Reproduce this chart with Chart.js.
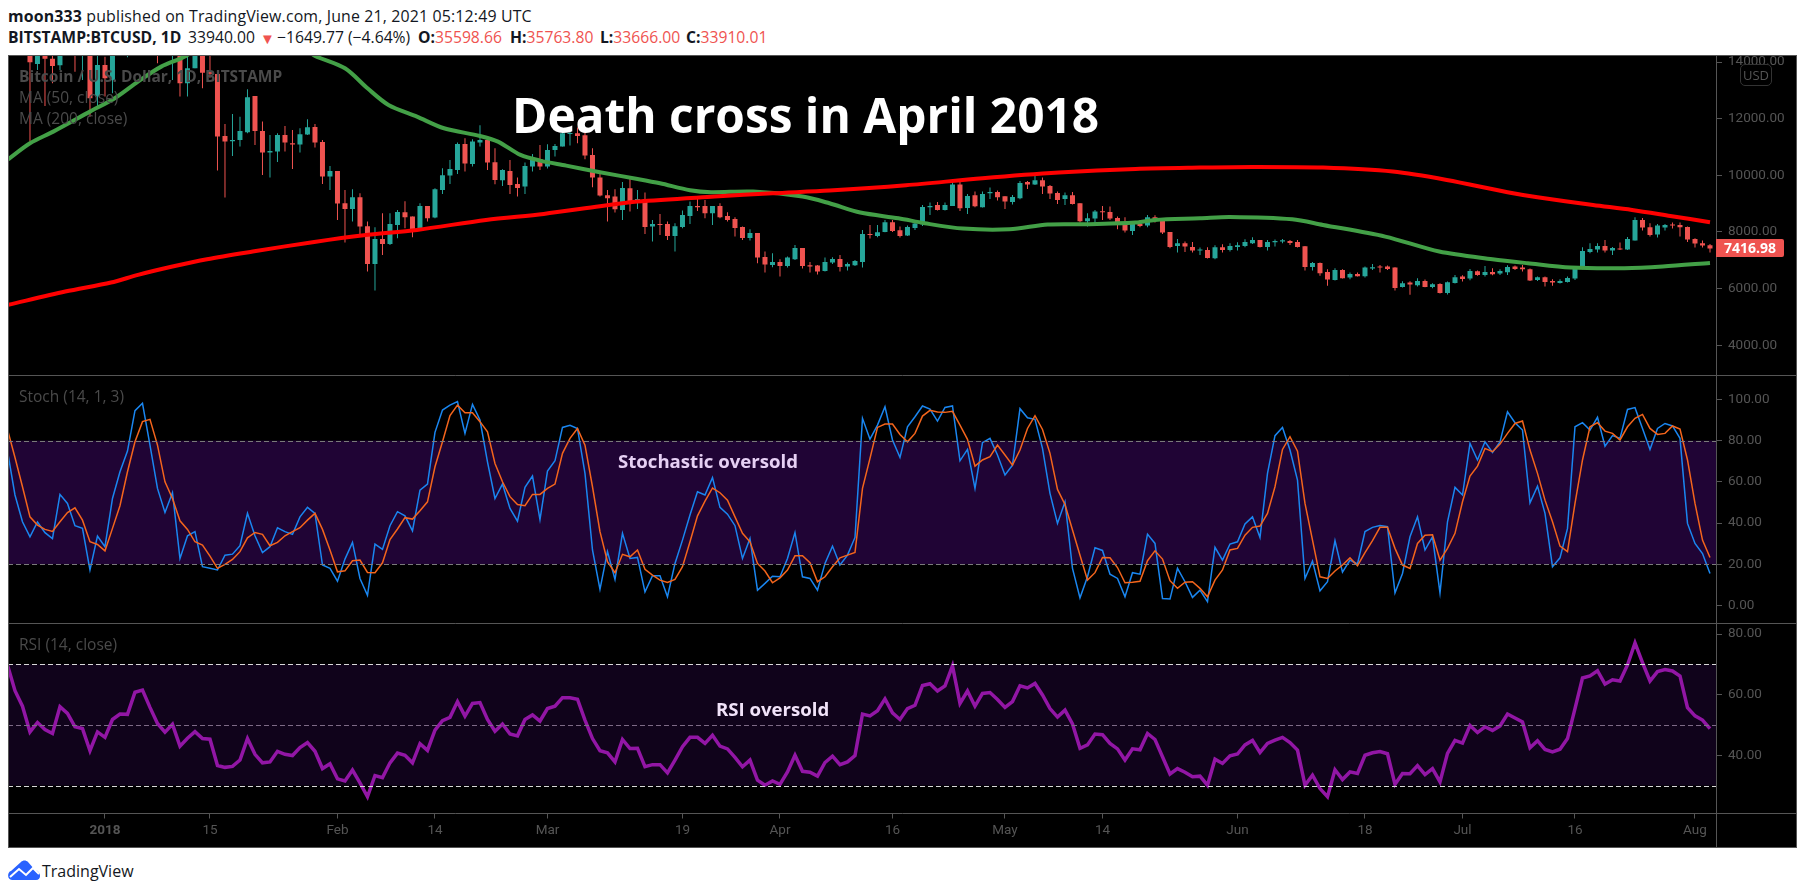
<!DOCTYPE html>
<html>
<head>
<meta charset="utf-8">
<title>BTCUSD death cross</title>
<script src="https://cdn.jsdelivr.net/npm/chart.js@4/dist/chart.umd.min.js"></script>
<style>
  html, body { margin: 0; padding: 0; background: #fff; width: 1805px; height: 894px; overflow: hidden; }
  body { font-family: "Open Sans", sans-serif; position: relative; }
  canvas { position: absolute; left: 8px; top: 55px; background: #000; }
  .t { position: absolute; white-space: nowrap; line-height: 1; transform: translateY(-50%); }
  .hdr { color: #131722; font-size: 15.7px; }
  .red { color: #ef5350; }
  .pane { color: #4a4a4a; font-size: 15.5px; z-index: 2; }
  .note { font-family: "Open Sans", sans-serif; font-weight: 700; z-index: 3; }
</style>
</head>
<body>
<canvas id="chart" width="1789" height="793"></canvas>

<div class="t hdr" style="left:8px;top:17px;font-size:15.9px;letter-spacing:.15px"><b>moon333</b> published on TradingView.com, June 21, 2021 05:12:49 UTC</div>
<div class="t hdr" style="left:8px;top:38px"><b>BITSTAMP:BTCUSD, 1D</b></div>
<div class="t hdr" style="left:188px;top:38px">33940.00</div>
<div class="t hdr red" style="left:260px;top:38px;font-size:15px">▼</div>
<div class="t hdr" style="left:277px;top:38px">−1649.77 (−4.64%)</div>
<div class="t hdr" style="left:418px;top:38px"><b>O:</b><span class="red">35598.66</span></div>
<div class="t hdr" style="left:510px;top:38px"><b>H:</b><span class="red">35763.80</span></div>
<div class="t hdr" style="left:600px;top:38px"><b>L:</b><span class="red">33666.00</span></div>
<div class="t hdr" style="left:686px;top:38px"><b>C:</b><span class="red">33910.01</span></div>

<div class="t pane" style="left:19px;top:77px;font-weight:700">Bitcoin / U.S. Dollar, 1D, BITSTAMP</div>
<div class="t pane" style="left:19px;top:98px">MA (50, close)</div>
<div class="t pane" style="left:19px;top:119px">MA (200, close)</div>
<div class="t pane" style="left:19px;top:397px">Stoch (14, 1, 3)</div>
<div class="t pane" style="left:19px;top:645px">RSI (14, close)</div>

<div class="t note" style="left:512px;top:115px;font-size:47.8px;color:#fff">Death cross in April 2018</div>
<div class="t note" style="left:618px;top:461px;font-size:18.6px;color:#e6d0f4">Stochastic oversold</div>
<div class="t note" style="left:716px;top:709px;font-size:18.6px;color:#f1e3f9">RSI oversold</div>

<div style="position:absolute;left:1740px;top:64px;width:30px;height:20px;border:1px solid #333;border-radius:5px;background:rgba(0,0,0,.6);z-index:2;color:#555;font-size:13px;line-height:20px;text-align:center">USD</div>
<div id="lastTag" class="t" style="left:1716px;width:68px;height:18px;background:#ef5350;color:#fff;font-weight:700;font-size:14px;line-height:18px;text-align:center;border-radius:0 2px 2px 0;z-index:2">7416.98</div>

<svg style="position:absolute;left:8px;top:860px" width="33" height="20" viewBox="0 0 33 20">
  <path d="M4 20 C-1 20 -1 12 3 11 L13 2 C15 0 18 0 20 2 L27 10 C33 11 34 20 28 20 Z" fill="#2962ff"/>
  <path d="M2 17 L11 9 L18 15 L25 8 L31 14" fill="none" stroke="#fff" stroke-width="2"/>
</svg>
<div class="t" style="left:42px;top:871px;font-size:16px;color:#131722">TradingView</div>

<script>
// days are counted from 1 Jan 2018, first candle sits 13 days before that
const firstDay = -13;

const opens = [
  18900,17100,16500,15600,13934,14900,14122,13887,15700,15400,
  14400,14560,12781,13899,13369,14800,15100,15100,16900,17100,
  16100,14900,14600,14900,13251,13781,14600,13640,13581,11392,
  11203,11250,11521,12804,11568,10803,10838,11427,11133,11086,
  11439,11710,11180,9956,10156,9015,8814,9226,8202,6872,
  7755,7578,8250,8697,8544,8073,8920,8508,9485,9991,
  10191,11109,10403,11156,11250,10462,9826,10156,9697,9603,
  10309,10580,10309,10897,11015,11460,11486,11415,10721,9921,
  9297,9250,8779,9544,9097,9155,8194,8285,8285,7861,
  8178,8567,8920,8920,8661,8920,8567,8461,8178,7790,
  7967,7120,6837,6943,6802,7037,7437,6825,6813,6625,
  6919,7049,6778,6825,6943,7920,7861,8002,8343,8061,
  7873,8143,8273,8873,8956,8779,8920,9673,8850,9297,
  8873,9367,9414,9261,9061,9191,9768,9673,9826,9626,
  9379,9167,9297,9014,8379,8473,8708,8708,8497,8355,
  8037,8285,8226,8520,8426,8002,7508,7602,7473,7343,
  7367,7072,7461,7367,7473,7508,7602,7720,7473,7637,
  7661,7684,7649,7496,6766,6907,6590,6307,6660,6390,
  6519,6437,6707,6778,6778,6743,6060,6213,6119,6272,
  6060,6166,5848,6201,6425,6354,6613,6484,6590,6531,
  6578,6778,6743,6684,6307,6401,6272,6201,6237,6354,
  6707,7296,7378,7508,7343,7402,7378,7696,8426,8167,
  7908,8155,8250,8250,8178,7755,7602,7531
];
const highs = [
  19000,17900,17000,15800,15500,15400,14480,16400,16500,15500,
  15100,14900,14300,14193,15000,15400,15400,17100,17300,17200,
  16300,15300,15000,15000,14193,14900,14700,14400,13700,11816,
  12169,12074,13040,12804,11898,11427,11486,11745,11604,11663,
  11980,11816,11250,10333,10156,9485,9509,9367,8367,8167,
  8661,8661,8779,9085,8544,9014,8920,9544,10250,10544,
  11156,11309,11274,11769,11274,10956,10215,10544,9921,10450,
  10756,11074,11098,11109,11545,11545,11686,11663,10956,10074,
  9485,9509,9767,9921,9485,9391,8426,8638,8367,8308,
  8756,9073,9191,9132,8920,9014,8697,8520,8190,8096,
  7967,7308,7249,7037,7131,7543,7437,6943,6837,7096,
  7108,7190,6919,7014,8073,8250,8250,8426,8426,8190,
  8226,8332,8956,9038,9061,9038,9767,9767,9344,9426,
  9426,9568,9462,9261,9309,9803,9803,9979,9921,9662,
  9426,9391,9414,9014,8661,8779,8920,8897,8544,8520,
  8308,8426,8603,8591,8450,8002,7755,7661,7649,7449,
  7461,7531,7566,7602,7637,7743,7814,7720,7720,7731,
  7755,7720,7720,7508,6943,6919,6684,6719,6684,6566,
  6566,6778,6872,6837,6813,6755,6260,6260,6366,6319,
  6190,6190,6249,6484,6472,6696,6637,6802,6719,6684,
  6825,6813,6837,6707,6425,6425,6331,6331,6425,6778,
  7461,7602,7602,7720,7473,7625,7825,8520,8497,8308,
  8285,8285,8332,8332,8190,7778,7696,7578
];
const lows = [
  16300,16500,14600,11192,13722,12451,13251,13722,14800,13663,
  13369,12074,12451,12781,12898,14600,14170,14800,16400,15700,
  13958,14300,13369,12781,12781,13781,13075,13450,10168,9214,
  10686,11015,11486,11074,10015,9921,10474,10839,10227,10803,
  11427,10980,9697,9485,8426,7625,8367,7837,6601,5931,
  7190,7543,7778,8132,7814,8049,8367,8485,9344,9697,
  10050,10133,10309,11015,10191,9685,9626,9344,9250,9344,
  10133,10191,10238,10662,11015,11050,11133,10568,9579,9250,
  8367,8685,8426,8720,8814,7931,7660,7897,7720,7308,
  8132,8285,8744,8485,8250,8485,8367,7837,7720,7696,
  6896,6566,6755,6425,6743,7014,6707,6566,6496,6601,
  6872,6601,6637,6802,6743,7767,7814,7990,8002,7802,
  7861,8073,8214,8603,8756,8756,8920,8744,8638,8873,
  8861,9167,9109,8814,8967,9156,9520,9662,9344,9167,
  8991,8956,8967,8332,8190,8308,8426,8426,8096,7979,
  7897,8167,8167,8332,7931,7425,7272,7296,7272,7190,
  7060,7037,7272,7308,7343,7461,7578,7449,7343,7484,
  7602,7543,7449,6637,6637,6449,6096,6284,6354,6331,
  6425,6390,6660,6566,6660,5931,6036,5778,6072,6048,
  6013,5825,5790,6178,6249,6296,6449,6425,6472,6484,
  6484,6660,6601,6272,6272,6072,6096,6178,6213,6307,
  6684,7249,7272,7272,7190,7367,7367,7696,8049,7837,
  7802,8049,8120,7837,7649,7449,7449,7272
];
const closes = [
  17100,16500,15600,13993,14900,14122,13864,15700,15400,14400,
  14560,12722,13899,13428,14800,15100,15100,16900,17100,16100,
  14900,14600,14900,13251,13781,14600,13628,13590,11368,11192,
  11250,11568,12757,11568,10803,10862,11427,11156,11086,11451,
  11698,11156,9956,10156,9003,8814,9226,8190,6872,7755,
  7578,8285,8708,8520,8037,8920,8485,9509,10003,10227,
  11109,10415,11192,11250,10450,9838,10191,9662,9556,10333,
  10568,10309,10897,11039,11486,11486,11392,10697,9921,9285,
  9191,8802,9556,9085,9167,8178,8285,8250,7861,8202,
  8603,8920,8873,8661,8920,8520,8426,8143,7790,7967,
  7096,6849,6943,6802,7096,7437,6802,6778,6601,6943,
  7049,6766,6872,6978,7932,7897,7990,8343,8037,7861,
  8178,8296,8885,8920,8779,8956,9673,8838,9273,8908,
  9344,9414,9226,9073,9238,9732,9673,9826,9603,9356,
  9132,9297,8991,8379,8485,8720,8697,8473,8308,8049,
  8285,8214,8520,8391,7979,7473,7602,7484,7343,7367,
  7084,7461,7367,7508,7531,7649,7720,7473,7649,7684,
  7708,7614,7473,6766,6907,6543,6319,6660,6366,6519,
  6437,6743,6755,6743,6696,6025,6190,6143,6272,6060,
  6154,5848,6225,6401,6343,6625,6484,6590,6507,6625,
  6766,6696,6684,6284,6401,6237,6213,6272,6378,6731,
  7331,7402,7508,7343,7437,7378,7755,8426,8155,7896,
  8226,8250,8226,8167,7731,7590,7520,7417
];

const ma50Days = [-12.9,-10,-6.9,-2,1.3,4.4,7.5,10.8,14,20,27,28,32,35,37.8,41.6,45.2,50,52.4,55.4,58,61.5,66,71,74,78,80.8,86.4,93,96.6,100.7,105.8,109.3,114.4,120.6,125.7,130.8,137.4,140,146,150,158.3,162.4,170.7,177.9,185,189.7,195.4,202.6,207.7,214];
const ma50 = [10568,11133,11545,12251,12722,13310,13840,14217,14782,15017,14400,14217,13781,13075,12486,12074,11663,11392,11192,10721,10521,10344,10109,9873,9720,9473,9403,9426,9250,9014,8685,8485,8308,8120,8096,8261,8273,8332,8426,8485,8532,8450,8249,7837,7308,7037,6896,6743,6719,6778,6907];
const ma200Days = [-12.9,-5.3,0.8,4.4,9,13.6,19.7,27.9,34.5,41.6,50.8,58.5,66,71,81.3,89,96.6,106.8,117,127.2,137.4,146,153,162.4,171.7,178.9,187,191,198.4,203.6,208.7,214];
const ma200 = [5425,5895,6213,6484,6778,7037,7308,7649,7885,8073,8426,8638,8908,9073,9250,9367,9462,9650,9897,10097,10227,10274,10297,10274,10133,9838,9403,9226,8955,8779,8567,8343];

const stochK = [
  75,53.6,40.6,33.3,40.5,35.3,32.4,53.9,49.5,38.7,
  37.4,17.2,33.7,28.5,51.9,64.9,74.9,94.5,98.1,77.8,
  56.8,45.1,54.7,22.8,33.8,35.8,18.8,18,17.2,24.4,
  24.9,29,44.7,33.8,25.7,28.5,37.7,35.8,34.5,43,
  47.6,44.7,19.6,18,11.8,22.5,30.6,13.1,4.9,29.8,
  27.2,38.7,45.5,43.5,36.2,56,58.9,84,94.8,97.2,
  98.9,83.5,97.6,90,69.7,51.9,58.9,47.1,40.9,57.3,
  62.8,41.7,65.2,70.2,86.4,87.4,85.9,64.1,26.9,7.8,
  26.1,12.6,35,22.8,23.3,6.6,14.4,14.4,4.2,20.4,
  31.7,43.9,55.2,53.6,62,47.6,44.3,38.7,22.8,32.5,
  7.4,10.7,14.2,13.9,22.8,35.4,13.9,13.1,7.4,20.4,
  28.8,19.6,24.4,33,90.8,80.7,87.5,96.4,80.3,71.8,
  86.7,91.6,96.8,95.3,89.5,96.1,96.8,70.2,75.7,56.8,
  79,81.1,73,63.3,68.1,95.5,91.1,90.3,76.2,54.4,
  39.8,50.3,18,3.7,13.9,28,26.7,15.2,13.1,4.2,
  15.9,15.2,34.6,30.1,3.4,3.1,18,11.5,3.9,7.4,
  1.8,28.2,22,29.8,30.9,39.5,43,33,64.1,82.4,
  86.4,75.4,60.8,13.1,21.5,7.1,11.5,31.4,16.2,22,
  20.1,35.9,37.9,38.8,38.2,6.1,15.5,33.3,43,26.9,
  33.3,6.1,40.6,57.3,53.6,78.6,70.6,79.4,74.3,79.4,
  94,88.7,85.1,49.8,57.9,44.7,18.8,23.1,37.4,86.7,
  88.7,85.1,91.3,77.3,82.4,81.1,95.1,96,85.9,75.7,
  85.9,88.3,87.1,81.1,39.8,30.1,25.2,15.5
];
const stochD = [
  85.4,71.8,57.6,43,39,36.9,35.9,40.6,45.1,47.4,
  41.4,30.9,29.6,26.5,37.4,48.4,64.9,79.4,89.2,90.3,
  77.8,60,51.9,41.1,36.9,30.9,29.3,23.9,18,19.9,
  22.3,26.1,32.8,35.4,34.5,29,30.6,33.8,35.8,37.7,
  41.4,44.7,36.9,26.9,16.3,16.8,21.7,22,16,15.9,
  20.7,32,37.1,42.6,41.9,46,50.3,67.3,79.4,92.1,
  97.2,93.5,93.5,89.2,84.3,68.9,60,52.8,49,48.4,
  53.9,53.9,56.8,58.9,73.8,81.1,85.9,77.8,57.6,35.8,
  21.2,15.9,24.8,23.6,26.9,17.5,14.7,12.3,11.2,12.6,
  18.8,30.9,43.5,50.6,57,54.7,51.1,43,35,30.9,
  20.4,16.7,11,13.4,17.2,24.1,24.1,20.7,11.5,13.9,
  18.8,23.1,24.4,25.7,56.8,71.4,86.4,88,88,83,
  79.4,83.5,91.9,94.7,93.9,93.7,94.2,87.5,80.6,67.6,
  70.6,72.2,77.8,73,68.1,75.4,85.9,92.1,85.4,73.8,
  56.3,49,36.6,24.4,12.3,15.9,23.3,23.1,18.4,11,
  11.2,11.7,21.7,26.5,22.5,12,8.3,11.3,11.5,8.3,
  4.2,12.3,17.2,26.9,27.7,34.1,37.9,38.5,44.7,57.6,
  75.7,81.9,74.9,49.5,31.7,13.9,13.1,16.7,19.6,23.1,
  19.3,25.6,31.4,37.9,38,27.7,19.6,18,30.1,34.1,
  34.3,22,27.7,35,50.3,62.8,67.6,76.2,74.6,78.3,
  83.5,88.3,89.5,75.4,64.1,51.1,40.6,28.8,26.1,49.5,
  70.6,86.7,88.7,84.6,83.5,80.3,86.7,90.8,92.7,85.9,
  83,83.5,87.1,85.6,70.6,49.5,31.7,23.3
];
const rsi = [
  69.8,61.3,56.2,47.7,50.8,48.5,47.2,56,53.8,49.4,
  48.8,41.5,47.7,45.9,51.8,53.6,53.5,60.8,61.5,55.8,
  50.5,47.6,50.2,43,45.6,47.8,45.5,45.3,36.6,36,
  36.3,38.4,45.5,40.3,37.5,37.8,41.3,40.3,39.9,42.5,
  44.2,41.3,35.6,37.2,32.2,31.5,35.1,30.9,26.3,33.3,
  32.6,37.5,40.7,40,37.5,43.8,41.6,48.3,51.4,52.5,
  57.7,52.9,57.1,57.4,51.8,47.9,50.3,47,46.4,51.8,
  53.3,51.3,55.4,56.2,59,59,58.5,51.6,45.5,41.5,
  40.8,37.8,45.2,42.2,42.3,36.2,36.9,36.9,34.2,38.4,
  42.8,45.9,45.9,43.9,46.6,43,42.1,39.3,36.2,38.4,
  31.8,30.1,31.5,30.4,34.5,40,34.7,34.4,33.1,37.6,
  39.7,36.9,37.8,39.9,53.6,53,54.7,58.6,54,51.8,
  55.4,56.5,63,63.6,61.2,62.9,69.5,57.1,61.2,56.2,
  60.4,60.7,58.4,55.8,57.7,62.9,62.2,63.7,59.9,55.4,
  52.6,54.9,50.3,42.3,43.4,47,46.8,43.9,42.1,38.4,
  42.1,41.8,47.2,45.2,39.5,33.8,35.6,34.4,32.9,33.1,
  30.1,38.7,37.3,39.8,40.4,43.4,44.9,40.9,43.9,45,
  45.9,44.2,41.7,30.1,33.4,29,26.3,35.2,32,34.5,
  34,40,40.8,41.2,40.5,30.4,34,33.9,36.6,33.6,
  35.6,31.2,40.6,44.9,44,49.8,47.5,49.4,48.2,49.7,
  53.6,52.3,51,42.5,44.8,41.9,41.1,42,45.5,55.4,
  65.5,66.2,67.9,63.5,64.9,64.5,69.8,77.1,70.6,64.5,
  67.6,68.3,67.8,66.1,55.7,53,51.6,48.8
];

const priceTicks = [14000,12000,10000,8000,6000,4000];
const stochTicks = [100,80,60,40,20,0];
const rsiTicks = [80,60,40];
const stochBand = [20,80];
const rsiBand = [30,70];
const rsiMiddle = 50;
const xTickDays = [0,14,31,44,59,77,90,105,120,133,151,168,181,196,212];
const xTickLabels = ['2018','15','Feb','14','Mar','19','Apr','16','May','14','Jun','18','Jul','16','Aug'];

const UP = '#26a69a', DOWN = '#ef5350', AXIS = '#555555', LABEL = '#555555';
const tickFont = { family: 'Roboto', size: 13.5 };

const day = i => firstDay + i;
const candleColors = closes.map((c, i) => c >= opens[i] ? UP : DOWN);
const series = vals => vals.map((y, i) => ({ x: day(i), y }));
const knots = (days, vals) => vals.map((y, i) => ({ x: days[i], y }));

// labels at the pane edges must not push the plot area in
function noPadding(axis) {
  axis.paddingTop = axis.paddingBottom = axis.paddingLeft = axis.paddingRight = 0;
}

function priceAxis(stackWeight, min, max, ticks) {
  return {
    type: 'linear', position: 'right', stack: 'panes', stackWeight, min, max,
    border: { color: AXIS, width: 1 },
    grid: { drawOnChartArea: false, color: AXIS, tickColor: AXIS, tickLength: 6 },
    ticks: { color: LABEL, font: tickFont, padding: 6, autoSkip: false, callback: v => v.toFixed(2) },
    afterBuildTicks: axis => { axis.ticks = ticks.map(value => ({ value })); },
    afterFit: axis => { axis.width = 81; noPadding(axis); }
  };
}

// purple bands, dashed levels and pane separators
const panes = {
  id: 'panes',
  beforeDatasetsDraw(chart) {
    const { ctx, chartArea: a, scales: s } = chart;
    const band = (sc, lo, hi, col) => {
      ctx.fillStyle = col;
      ctx.fillRect(a.left, sc.getPixelForValue(hi), a.width, sc.getPixelForValue(lo) - sc.getPixelForValue(hi));
    };
    band(s.yStoch, stochBand[0], stochBand[1], '#200435');
    band(s.yRsi, rsiBand[0], rsiBand[1], '#10031b');
  },
  afterDatasetsDraw(chart) {
    const { ctx, chartArea: a, scales: s, width, height } = chart;
    const dash = (sc, v, col, pattern) => {
      const y = Math.round(sc.getPixelForValue(v)) + 0.5;
      ctx.save();
      ctx.strokeStyle = col;
      ctx.setLineDash(pattern);
      ctx.beginPath();
      ctx.moveTo(a.left, y);
      ctx.lineTo(a.right, y);
      ctx.stroke();
      ctx.restore();
    };
    stochBand.forEach(v => dash(s.yStoch, v, '#7a7a7a', [5, 3]));
    rsiBand.forEach(v => dash(s.yRsi, v, '#d8d8d8', [5, 3]));
    dash(s.yRsi, rsiMiddle, '#7d6a86', [5, 3]);

    ctx.save();
    ctx.strokeStyle = AXIS;
    ctx.lineWidth = 1;
    ctx.beginPath();
    [s.y.bottom, s.yStoch.bottom, s.yRsi.bottom].forEach(b => {
      const y = Math.round(b) + 0.5;
      ctx.moveTo(0, y);
      ctx.lineTo(width, y);
    });
    ctx.moveTo(a.right + 0.5, a.bottom);
    ctx.lineTo(a.right + 0.5, height);
    ctx.strokeRect(0.5, 0.5, width - 1, height - 1);
    ctx.stroke();
    ctx.restore();
  }
};

const chart = new Chart(document.getElementById('chart'), {
  type: 'bar',
  plugins: [panes],
  data: {
    datasets: [
      { type: 'line', data: knots(ma200Days, ma200), yAxisID: 'y', borderColor: '#ff0000', borderWidth: 4, pointRadius: 0, tension: 0.3, order: 1 },
      { type: 'line', data: knots(ma50Days, ma50), yAxisID: 'y', borderColor: '#43a047', borderWidth: 4, pointRadius: 0, tension: 0.3, order: 2 },
      { data: opens.map((o, i) => ({ x: day(i), y: [o, closes[i]] })), yAxisID: 'y', backgroundColor: candleColors, barThickness: 5, grouped: false, minBarLength: 1, inflateAmount: 0, order: 3 },
      { data: highs.map((h, i) => ({ x: day(i), y: [lows[i], h] })), yAxisID: 'y', backgroundColor: candleColors, barThickness: 1, grouped: false, inflateAmount: 0, order: 4 },
      { type: 'line', data: series(stochD), yAxisID: 'yStoch', borderColor: '#f4651c', borderWidth: 1.5, pointRadius: 0, tension: 0, order: 1 },
      { type: 'line', data: series(stochK), yAxisID: 'yStoch', borderColor: '#1a86f0', borderWidth: 1.5, pointRadius: 0, tension: 0, order: 2 },
      { type: 'line', data: series(rsi), yAxisID: 'yRsi', borderColor: '#9216a5', borderWidth: 3.5, pointRadius: 0, tension: 0, order: 1 }
    ]
  },
  options: {
    responsive: false,
    devicePixelRatio: 1,
    animation: false,
    events: [],
    layout: { padding: 0 },
    plugins: { legend: { display: false }, tooltip: { enabled: false } },
    scales: {
      x: {
        type: 'linear', min: -12.93, max: 214.8, offset: false,
        border: { display: false },
        grid: { offset: false, drawOnChartArea: false, color: AXIS, tickColor: AXIS, tickLength: 6 },
        ticks: {
          color: LABEL, padding: 4, autoSkip: false, maxRotation: 0,
          font: ctx => ({ ...tickFont, weight: ctx.tick && ctx.tick.value === 0 ? 'bold' : 'normal' }),
          callback: v => xTickLabels[xTickDays.indexOf(v)]
        },
        afterBuildTicks: axis => { axis.ticks = xTickDays.map(value => ({ value })); },
        afterFit: axis => { axis.height = 35.5; noPadding(axis); }
      },
      y: priceAxis(320.3, 2934, 14251, priceTicks),
      yStoch: priceAxis(248, -8.74, 111.65, stochTicks),
      yRsi: priceAxis(189, 21.1, 83.5, rsiTicks)
    }
  }
});

document.getElementById('lastTag').style.top = (55 + chart.scales.y.getPixelForValue(closes[closes.length - 1])) + 'px';
</script>
</body>
</html>
